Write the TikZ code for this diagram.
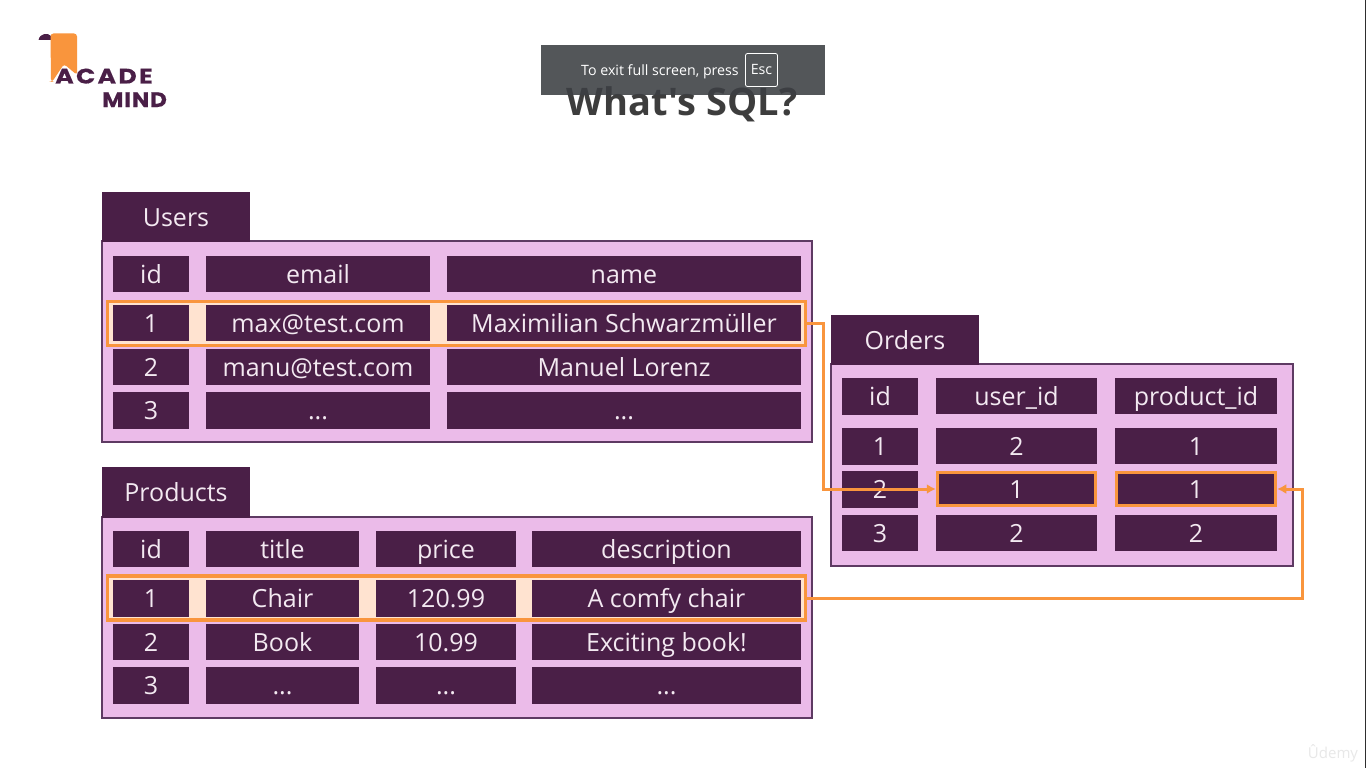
\documentclass[tikz,border=0pt]{standalone}
\usepackage{fontspec}
\setmainfont{Open Sans}
\newfontfamily\titlefont{Open Sans}
\newfontfamily\toastfont{Open Sans}
\newfontfamily\logofonta[BoldFeatures={FakeStretch=1.2,LetterSpace=11,FakeBold=0.4}]{Poppins}
\newfontfamily\logofontb[BoldFeatures={FakeStretch=1.1,LetterSpace=4,FakeBold=0.4}]{Poppins}
\usetikzlibrary{arrows.meta}
\definecolor{plum}{HTML}{4A1F47}
\definecolor{panelpink}{HTML}{EBBBE9}
\definecolor{edgeplum}{HTML}{5E3A63}
\definecolor{hlorange}{HTML}{F9953D}
\definecolor{peach}{HTML}{FFE3D0}
\definecolor{toastgrey}{HTML}{3C3F43}
\definecolor{cellwhite}{HTML}{F3E9F1}
\tikzset{
  box/.style={rectangle,inner sep=0pt,outer sep=0pt,align=center},
  panel/.style={box,fill=panelpink,draw=edgeplum,line width=1.4pt},
  tabbox/.style={box,fill=plum,text=cellwhite,font=\fontsize{25}{25}\selectfont,text height=18pt,text depth=0pt},
  cell/.style={box,fill=plum,text=cellwhite,font=\fontsize{25}{25}\selectfont,text height=18pt,text depth=0pt},
  hlcell/.style={cell,draw=hlorange,line width=3.5pt,outer sep=1.75pt},
  hlrow/.style={box,fill=peach,draw=hlorange,line width=3.5pt,outer sep=1.75pt},
  link/.style={draw=hlorange,line width=3pt,-{Latex[length=9pt,width=10pt]}},
}
% #1 style, #2 name, #3 x1, #4 y1, #5 x2, #6 y2, #7 text
\newcommand{\bx}[7]{\node[#1,minimum width={(#5-#3)*1pt},minimum height={(#6-#4)*1pt}] (#2) at ({(#3+#5)/2},{(#4+#6)/2}) {#7};}
\begin{document}
\begin{tikzpicture}[x=1pt,y=-1pt]
\useasboundingbox (0,0) rectangle (1366,768);
\fill[white] (0,0) rectangle (1366,768);
\fill[black!82] (1365,0) rectangle (1366,768);
% logo
\fill[plum] (38.5,40) .. controls (40,33) and (48,32.5) .. (51,36) -- (51,40) -- cycle;
\fill[hlorange,rounded corners=3pt] (50.5,33.5) -- (77,33.5) -- (77,75) -- (64,64) -- (52,82) -- (51,82) -- cycle;
\node[anchor=base west,inner sep=0pt,text=plum,font=\logofonta\bfseries\fontsize{21}{21}\selectfont] (logoa) at (55,83.5) {ACADE};
\node[anchor=base west,inner sep=0pt,text=plum,font=\logofontb\bfseries\fontsize{21}{21}\selectfont] (logob) at (102,107) {MIND};
% title and full-screen notice
\node[anchor=base,inner sep=0pt,text=black!76,font=\titlefont\bfseries\fontsize{38}{38}\selectfont] (title) at (682,115) {What's SQL?};
\bx{box,fill=toastgrey,fill opacity=.88}{toast}{541}{45}{825}{95}{}
\node[anchor=base west,inner sep=0pt,text=white,font=\toastfont\fontsize{14.2}{14.2}\selectfont] (toasttext) at (581,75) {To exit full screen, press};
\bx{box,draw=white,line width=.8pt,rounded corners=2pt,text=white,font=\toastfont\fontsize{14.2}{14.2}\selectfont}{esc}{745.5}{53.5}{777.5}{86.5}{Esc}
% Users
\bx{panel}{upanel}{102}{241}{812}{442}{}
\bx{tabbox}{utab}{102}{192}{250}{242}{Users}
\bx{hlrow}{hlu}{107.5}{301.5}{805.5}{345.5}{}
\bx{cell}{u01}{113}{256}{189}{292}{id}
\bx{cell}{u02}{206}{256}{430}{292}{email}
\bx{cell}{u03}{447}{256}{801}{292}{name}
\bx{cell}{u11}{113}{305}{189}{341}{1}
\bx{cell}{u12}{206}{305}{430}{341}{max@test.com}
\bx{cell}{u13}{447}{305}{801}{341}{Maximilian Schwarzmüller}
\bx{cell}{u21}{113}{349}{189}{385}{2}
\bx{cell}{u22}{206}{349}{430}{385}{manu@test.com}
\bx{cell}{u23}{447}{349}{801}{385}{Manuel Lorenz}
\bx{cell}{u31}{113}{392}{189}{429}{3}
\bx{cell}{u32}{206}{392}{430}{429}{...}
\bx{cell}{u33}{447}{392}{801}{429}{...}
% Products
\bx{panel}{ppanel}{102}{517}{812}{718}{}
\bx{tabbox}{ptab}{102}{467}{250}{518}{Products}
\bx{hlrow}{hlp}{107.5}{576}{805.5}{620}{}
\bx{cell}{p01}{113}{531}{189}{567}{id}
\bx{cell}{p02}{206}{531}{359}{567}{title}
\bx{cell}{p03}{376}{531}{516}{567}{price}
\bx{cell}{p04}{532}{531}{801}{567}{description}
\bx{cell}{p11}{113}{580}{189}{617}{1}
\bx{cell}{p12}{206}{580}{359}{617}{Chair}
\bx{cell}{p13}{376}{580}{516}{617}{120.99}
\bx{cell}{p14}{532}{580}{801}{617}{A comfy chair}
\bx{cell}{p21}{113}{624}{189}{660}{2}
\bx{cell}{p22}{206}{624}{359}{660}{Book}
\bx{cell}{p23}{376}{624}{516}{660}{10.99}
\bx{cell}{p24}{532}{624}{801}{660}{Exciting book!}
\bx{cell}{p31}{113}{667}{189}{704}{3}
\bx{cell}{p32}{206}{667}{359}{704}{...}
\bx{cell}{p33}{376}{667}{516}{704}{...}
\bx{cell}{p34}{532}{667}{801}{704}{...}
% Orders
\bx{panel}{opanel}{831}{364}{1293}{566}{}
\bx{tabbox}{otab}{831}{315}{979}{365}{Orders}
\bx{cell}{o01}{842}{378}{918}{415}{id}
\bx{cell}{o02}{936}{378}{1097}{414}{user\_id}
\bx{cell}{o03}{1115}{378}{1277}{414}{product\_id}
\bx{cell}{o11}{842}{428}{918}{465}{1}
\bx{cell}{o12}{936}{428}{1097}{464}{2}
\bx{cell}{o13}{1115}{428}{1277}{464}{1}
\bx{cell}{o21}{842}{471}{918}{508}{2}
\bx{hlcell}{o22}{937.5}{472.5}{1095.5}{505.5}{1}
\bx{hlcell}{o23}{1116.5}{472.5}{1275.5}{505.5}{1}
\bx{cell}{o31}{842}{515}{918}{551}{3}
\bx{cell}{o32}{936}{515}{1097}{551}{2}
\bx{cell}{o33}{1115}{515}{1277}{551}{2}
% connectors
\coordinate (turnu) at (823,323);
\coordinate (turnp) at (1302,597);
\draw[link] (hlu.east) -- (hlu.east -| turnu) |- (o22.west);
\draw[link] (hlp.east) -- (hlp.east -| turnp) |- (o23.east);
% watermark
\node[anchor=base,inner sep=0pt,text=black!9,font=\fontsize{15}{15}\selectfont] (udemy) at (1333,758) {Ûdemy};
\end{tikzpicture}
\end{document}
